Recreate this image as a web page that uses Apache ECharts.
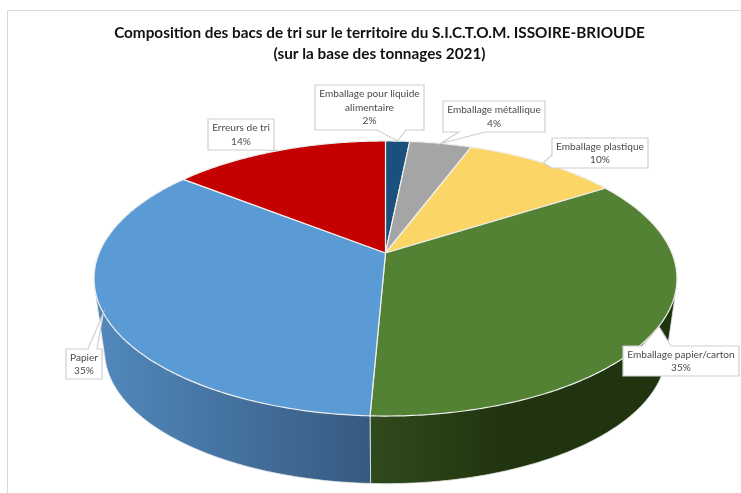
<!DOCTYPE html>
<html><head><meta charset="utf-8">
<style>html,body{margin:0;padding:0;background:#fff}#c{width:741px;height:493px}</style>
<script src="https://cdn.jsdelivr.net/npm/echarts@6/dist/echarts.min.js"></script>
</head><body><div id="c"></div>
<script>
var categories = ['Emballage pour liquide\nalimentaire','Emballage métallique','Emballage plastique','Emballage papier/carton','Papier','Erreurs de tri'];
var shares = [1.6, 4.1, 10.3, 34.7, 34.9, 14.4];
var topColors = ['#1b4f7c','#a5a5a5','#fbd566','#548235','#5b9bd5','#c40000'];
var wallLeft = ['#12355a','#6f6f6f','#a88f40','#2f4a1d','#5289bd','#800000'];
var wallRight = ['#12355a','#6f6f6f','#a88f40','#20340f','#365a80','#800000'];
// label box: left, top, width, height
var boxes = [[315,85,109,45],[443,101,102,31],[552,138,96,30],[623,346,116,30],[66,349,36,30],[208,119,66,31]];
// tip base on the box edge: edge, from, to
var bases = [['b',377,406],['b',459,485],['l',155,168],['t',642,671],['t',88,97],['b',263,274]];

var K = -0.1855;
var top3d = {ax:385.5, ay:253, r:286.4, b:132.8};
var low3d = {ax:385.5, ay:326.5, r:276, b:128};
function proj(m, a){ // a: clockwise angle from 12 o'clock
  var x = Math.sin(a), y = -Math.cos(a), d = 1 + K*y;
  return [m.ax + m.r*x/d, m.ay + m.b*y/d];
}
var total = shares.reduce(function(s,v){return s+v;},0);
var cum = [], acc = 0;
shares.forEach(function(v){ cum.push([acc/total*2*Math.PI,(acc+v)/total*2*Math.PI]); acc += v; });
function arc(m,a0,a1){
  var n = Math.max(2,Math.ceil((a1-a0)/0.012)), p = [];
  for(var i=0;i<=n;i++) p.push(proj(m,a0+(a1-a0)*i/n));
  return p;
}
function hull(points){
  var p = points.slice().sort(function(a,b){return a[0]-b[0]||a[1]-b[1];});
  function cross(o,a,b){return (a[0]-o[0])*(b[1]-o[1])-(a[1]-o[1])*(b[0]-o[0]);}
  var lo=[],up=[];
  p.forEach(function(q){ while(lo.length>1&&cross(lo[lo.length-2],lo[lo.length-1],q)<=0) lo.pop(); lo.push(q); });
  p.reverse().forEach(function(q){ while(up.length>1&&cross(up[up.length-2],up[up.length-1],q)<=0) up.pop(); up.push(q); });
  lo.pop(); up.pop();
  return lo.concat(up);
}
var dataRows = categories.map(function(c,i){ return {name:c, value:shares[i]}; });

function renderWall(params){
  var i = params.dataIndex, a = cum[i];
  var pts = hull(arc(top3d,a[0],a[1]).concat(arc(low3d,a[0],a[1])));
  return {type:'polygon', shape:{points:pts}, style:{
    fill:new echarts.graphic.LinearGradient(0,0,1,0,[{offset:0,color:wallLeft[i]},{offset:i===3?0.45:1,color:wallRight[i]},{offset:1,color:wallRight[i]}]),
    stroke:'#e6e6e6', lineWidth:0.8}};
}
function renderTop(params){
  var i = params.dataIndex, a = cum[i];
  var pts = [[top3d.ax,top3d.ay]].concat(arc(top3d,a[0],a[1]));
  return {type:'polygon', shape:{points:pts}, style:{fill:topColors[i], stroke:'#f0f0f0', lineWidth:1.2}};
}
function renderLabel(params){
  var i = params.dataIndex, b = boxes[i], e = bases[i];
  var mid = (cum[i][0]+cum[i][1])/2, tip = proj(top3d,mid);
  var x0=b[0], y0=b[1], x1=b[0]+b[2], y1=b[1]+b[3], pts;
  if(e[0]==='b') pts=[[x0,y0],[x1,y0],[x1,y1],[e[2],y1],tip,[e[1],y1],[x0,y1]];
  if(e[0]==='t') pts=[[x0,y0],[e[1],y0],tip,[e[2],y0],[x1,y0],[x1,y1],[x0,y1]];
  if(e[0]==='l') pts=[[x0,y0],[x1,y0],[x1,y1],[x0,y1],[x0,e[2]],tip,[x0,e[1]]];
  return {type:'group', children:[
    {type:'polygon', shape:{points:pts}, style:{fill:'#fff', stroke:'#cfcfcf', lineWidth:1.2}},
    {type:'text', style:{x:(x0+x1)/2, y:(y0+y1)/2, text:categories[i]+'\n'+Math.round(shares[i])+'%',
      align:'center', verticalAlign:'middle', fill:'#4a4a4a', font:'10.1px Lato', lineHeight:13.5}}
  ]};
}
var chart = echarts.init(document.getElementById('c'),null,{renderer:'canvas'});
chart.setOption({
  animation:false,
  title:{text:'Composition des bacs de tri sur le territoire du S.I.C.T.O.M. ISSOIRE-BRIOUDE\n(sur la base des tonnages 2021)',
    left:374.5, top:17.5, textAlign:'center',
    textStyle:{fontFamily:'Lato',fontSize:15.3,fontWeight:'bold',color:'#111',lineHeight:21}},
  graphic:[{type:'polyline',silent:true,z:0,shape:{points:[[7.5,493],[7.5,10.5],[741,10.5]]},style:{stroke:'#d9d9d9',lineWidth:1,fill:null}}],
  series:[
    {type:'custom',coordinateSystem:'none',z:2,data:dataRows,renderItem:renderWall,silent:true},
    {type:'custom',coordinateSystem:'none',z:3,data:dataRows,renderItem:renderTop,silent:true},
    {type:'custom',coordinateSystem:'none',z:4,data:dataRows,renderItem:renderLabel,silent:true}
  ]
});
</script></body></html>
